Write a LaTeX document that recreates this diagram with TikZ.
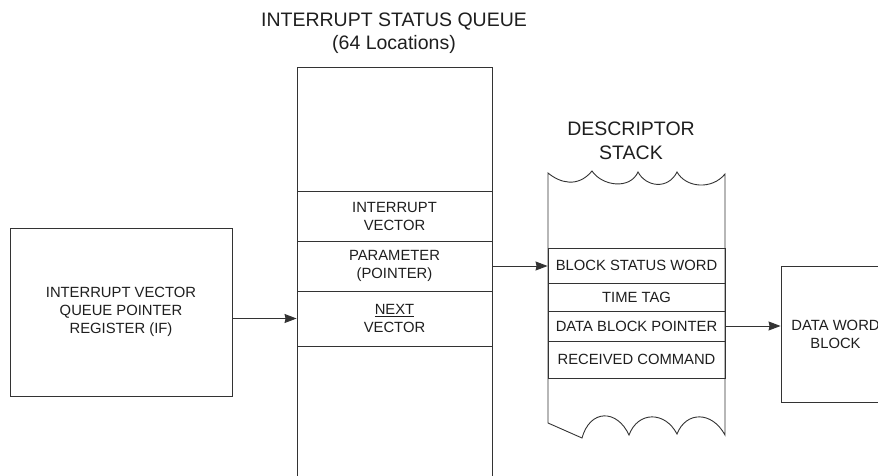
\documentclass[tikz,border=0pt]{standalone}
\usepackage{fontspec}
\setmainfont{Liberation Sans}
\usetikzlibrary{arrows.meta}
\usetikzlibrary{positioning}
\definecolor{inkgray}{HTML}{333333}
\definecolor{textgray}{HTML}{1E1E1E}

\begin{document}
\begin{tikzpicture}[x=1pt,y=-1pt, >={Stealth[length=12pt,width=9pt,inset=1pt]},
 line width=0.9pt, color=inkgray,
 body text/.style={font=\fontsize{14.8}{18}\selectfont, text=textgray, align=center},
 head text/.style={font=\fontsize{19.5}{23.5}\selectfont, text=textgray, align=center, inner sep=0pt},
 queue cell/.style={body text, draw, rectangle, inner sep=0pt, minimum width=195pt},
 stack cell/.style={body text, draw, rectangle, inner sep=0pt, minimum width=177pt}]
    % corta a margem: a fila e o bloco saem da figura
    \clip (0,0) rectangle (878,476);

    % registrador a esquerda
    \node[body text, draw, minimum width=222pt, minimum height=168pt] (ivqp) at (121,312)
        {INTERRUPT VECTOR\\QUEUE POINTER\\REGISTER (IF)};

    % fila de status
    \node[head text] (qtitle) at (394,33) {INTERRUPT STATUS QUEUE\\(64 Locations)};
    \draw (297,490) |- (492,67) -- (492,490);
    \node[queue cell, minimum height=50pt] (ivec) at (394.5,216) {INTERRUPT\\VECTOR};
    \node[queue cell, minimum height=50pt] (param) at (394.5,266) {PARAMETER\\(POINTER)};
    \node[queue cell, minimum height=55pt] (next) at (394.5,318.5) {\underline{NEXT}\\VECTOR};

    % pilha de descritores: bordas onduladas
    \node[head text] (stitle) at (631,141) {DESCRIPTOR\\STACK};
    \draw (548,173) .. controls (560,183) and (578,188) .. (592,171)
        .. controls (602,186) and (630,190) .. (638,172)
        .. controls (646,187) and (668,190) .. (677,172)
        .. controls (686,188) and (712,190) .. (725,174)
        -- (725,435) .. controls (712,411) and (686,411) .. (677,434)
        .. controls (665,411) and (638,411) .. (629,435)
        .. controls (617,409) and (590,409) .. (582,438)
        -- (548,423) -- cycle;
    \node[stack cell, minimum height=35pt] (bsw) at (636.5,265.5) {BLOCK STATUS WORD};
    \node[stack cell, minimum height=28pt] (ttag) at (636.5,297) {TIME TAG};
    \node[stack cell, minimum height=30pt] (dbp) at (636.5,326) {DATA BLOCK POINTER};
    \node[stack cell, minimum height=37pt] (rcmd) at (636.5,359.5) {RECEIVED COMMAND};

    % bloco de dados (cortado na direita)
    \node[body text, draw, minimum width=109pt, minimum height=136pt] (dwb) at (835.5,334)
        {DATA WORD\\BLOCK};

    % setas
    \draw[->] (ivqp.east |- next) -- (next.west);
    \draw[->] (param.east) -- (param.east -| bsw.west);
    \draw[->] (dbp.east) -- (dwb.west |- dbp);

\end{tikzpicture}
\end{document}
